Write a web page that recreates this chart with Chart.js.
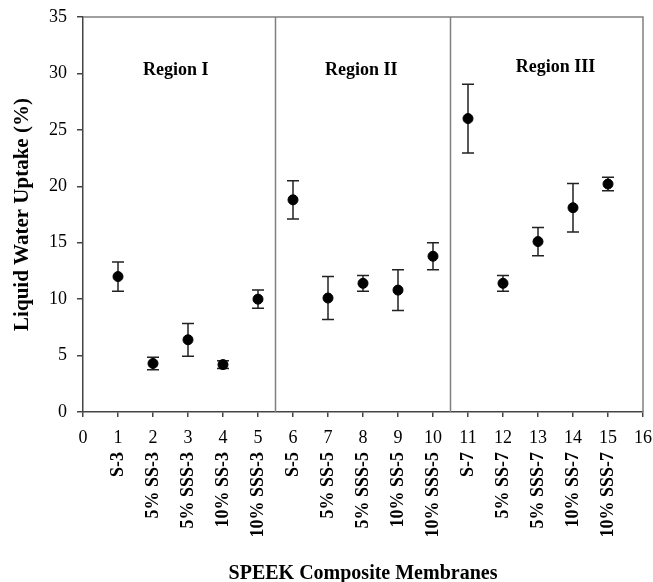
<!DOCTYPE html>
<html>
<head>
<meta charset="utf-8">
<script src="https://cdn.jsdelivr.net/npm/chart.js@4"></script>
<style>
  html, body { margin: 0; padding: 0; background: #fff; }
  #wrap { width: 653px; height: 582px; }
</style>
</head>
<body>
<div id="wrap"><canvas id="chart" width="653" height="582"></canvas></div>
<script>
// posição de cada membrana no eixo x
const positions = [1, 2, 3, 4, 5, 6, 7, 8, 9, 10, 11, 12, 13, 14, 15];
const membranes = ["S-3", "5% SS-3", "5% SSS-3", "10% SS-3", "10% SSS-3",
                   "S-5", "5% SS-5", "5% SSS-5", "10% SS-5", "10% SSS-5",
                   "S-7", "5% SS-7", "5% SSS-7", "10% SS-7", "10% SSS-7"];
const uptake = [12.0, 4.3, 6.4, 4.2, 10.0, 18.8, 10.1, 11.4, 10.8, 13.8, 26.0, 11.4, 15.1, 18.1, 20.2];
const uptakeErr = [1.3, 0.55, 1.45, 0.35, 0.8, 1.7, 1.9, 0.7, 1.8, 1.2, 3.05, 0.7, 1.25, 2.15, 0.6];

// regiões
const regionNames = ["Region I", "Region II", "Region III"];
const regionLabelX = [2.65, 7.95, 13.5];
const regionLabelY = [30.3, 30.3, 30.5];
const regionBounds = [5.5, 10.5];

const serif = '"Liberation Serif", "Times New Roman", serif';
Chart.defaults.font.family = serif;
Chart.defaults.color = "#000";

// barras de erro, divisórias e moldura
const decorPlugin = {
    id: "decor",
    beforeDatasetsDraw(chart) {
        const { ctx, chartArea: a, scales: { x, y } } = chart;
        ctx.save();
        // moldura (topo e direita)
        ctx.strokeStyle = "#808080";
        ctx.lineWidth = 1.5;
        ctx.beginPath();
        ctx.moveTo(a.left, a.top);
        ctx.lineTo(a.right, a.top);
        ctx.lineTo(a.right, a.bottom);
        ctx.stroke();
        // divisórias entre regiões
        regionBounds.forEach(b => {
            const px = x.getPixelForValue(b);
            ctx.beginPath();
            ctx.moveTo(px, a.top);
            ctx.lineTo(px, a.bottom);
            ctx.stroke();
        });
        // barras de erro
        ctx.strokeStyle = "#222";
        ctx.lineWidth = 1.5;
        positions.forEach((p, i) => {
            const px = x.getPixelForValue(p);
            const top = y.getPixelForValue(uptake[i] + uptakeErr[i]);
            const bot = y.getPixelForValue(uptake[i] - uptakeErr[i]);
            ctx.beginPath();
            ctx.moveTo(px, top); ctx.lineTo(px, bot);
            ctx.moveTo(px - 6, top); ctx.lineTo(px + 6, top);
            ctx.moveTo(px - 6, bot); ctx.lineTo(px + 6, bot);
            ctx.stroke();
        });
        // nomes das regiões
        ctx.fillStyle = "#000";
        ctx.font = "bold 18px " + serif;
        ctx.textAlign = "center";
        ctx.textBaseline = "middle";
        regionNames.forEach((n, i) => {
            ctx.fillText(n, x.getPixelForValue(regionLabelX[i]), y.getPixelForValue(regionLabelY[i]));
        });
        ctx.restore();
    },
    afterDraw(chart) {
        // nomes das membranas, na vertical
        const { ctx, chartArea: a, scales: { x } } = chart;
        ctx.save();
        ctx.fillStyle = "#000";
        ctx.font = "bold 18px " + serif;
        ctx.textAlign = "right";
        ctx.textBaseline = "middle";
        positions.forEach((p, i) => {
            ctx.save();
            ctx.translate(x.getPixelForValue(p), a.bottom + 40);
            ctx.rotate(-Math.PI / 2);
            ctx.fillText(membranes[i], 0, 0);
            ctx.restore();
        });
        ctx.restore();
    }
};

new Chart(document.getElementById("chart"), {
    type: "scatter",
    data: {
        datasets: [{
            label: "Liquid Water Uptake",
            data: positions.map((p, i) => ({ x: p, y: uptake[i] })),
            backgroundColor: "#000",
            borderColor: "#000",
            pointRadius: 5,
            pointHoverRadius: 5
        }]
    },
    options: {
        responsive: false,
        animation: false,
        layout: { autoPadding: false, padding: { top: 17, right: 10, left: 0, bottom: 0 } },
        plugins: {
            legend: { display: false },
            tooltip: { enabled: false }
        },
        scales: {
            x: {
                type: "linear", min: 0, max: 16,
                ticks: { stepSize: 1, font: { size: 18 }, padding: 10, color: "#000" },
                grid: { drawOnChartArea: false, tickLength: 5, color: "#444", lineWidth: 1.5 },
                border: { color: "#444", width: 1.5 },
                title: { display: true, text: "SPEEK Composite Membranes",
                         font: { size: 20, weight: "bold", lineHeight: 0.8 }, padding: { top: 0, bottom: 0 } },
                afterFit: s => { s.height = 170; s.paddingLeft = 0; s.paddingRight = 0; }
            },
            y: {
                min: 0, max: 35,
                ticks: { stepSize: 5, font: { size: 18 }, padding: 10, color: "#000" },
                grid: { drawOnChartArea: false, tickLength: 6, color: "#444", lineWidth: 1.5 },
                border: { color: "#444", width: 1.5 },
                title: { display: true, text: "Liquid Water Uptake (%)",
                         font: { size: 21, weight: "bold" }, padding: { top: 10, bottom: 0 } },
                afterFit: s => { s.width = 83; s.paddingTop = 0; s.paddingBottom = 0; }
            }
        }
    },
    plugins: [decorPlugin]
});
</script>
</body>
</html>
